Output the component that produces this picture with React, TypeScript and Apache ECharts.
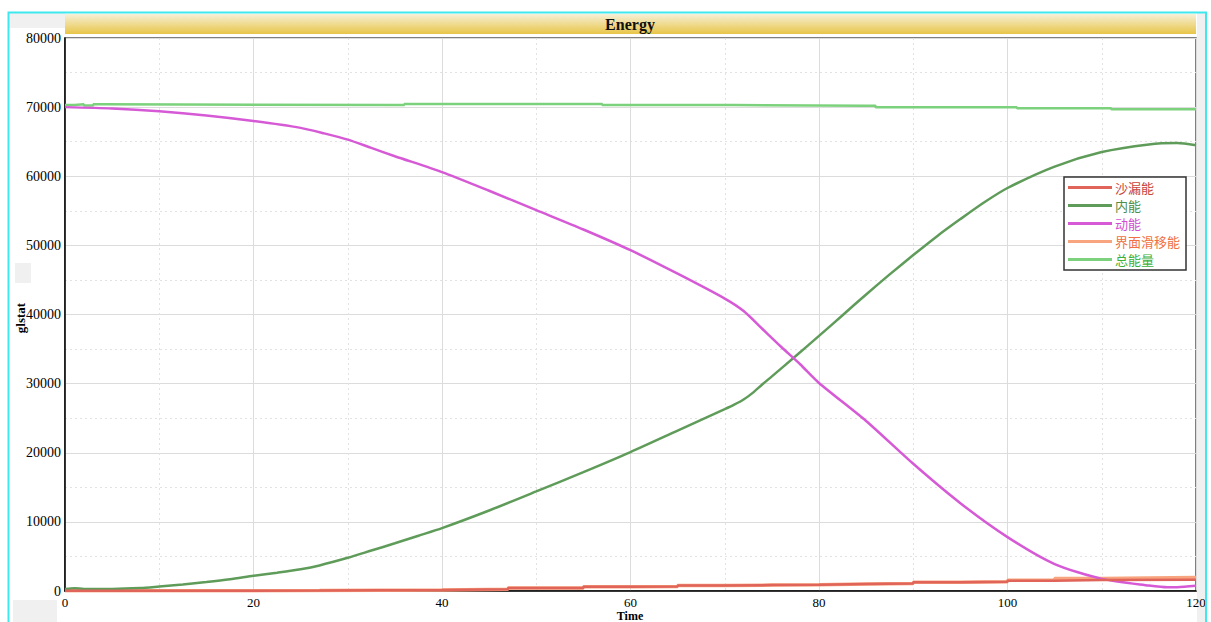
import React, { useEffect, useRef } from "react";
import * as echarts from "echarts";

const seriesNames = ["沙漏能", "内能", "动能", "界面滑移能", "总能量"];
const xAxisName = "Time";
const yAxisName = "glstat";
const chartTitle = "Energy";

// [time, value]
const hourglassData: [number, number][] = [
  [0, 30], [10, 40], [20, 60], [27, 150], [40, 250], [47, 450], [55, 600], [60, 650],
  [65, 780], [70, 850], [75, 900], [80, 1000], [85, 1100], [90, 1250], [95, 1350],
  [100, 1500], [105, 1580], [110, 1620], [120, 1600],
];
const internalData: [number, number][] = [
  [0, 300], [1, 400], [2, 300], [5, 300], [8, 420], [10, 650], [12.5, 950], [15, 1300],
  [17.5, 1700], [20, 2200], [22.5, 2650], [25, 3150], [27, 3700], [30, 4800], [32.5, 5850],
  [35, 6900], [37.5, 8000], [40, 9100], [45, 11650], [50, 14400],
  [55, 17200], [60, 20100], [65, 23200], [70, 26300], [71, 26950], [72, 27700], [73, 28700],
  [74, 29900], [75, 31050], [77.5, 33950], [80, 36900], [82.5, 39900], [85, 42900],
  [87.5, 45800], [90, 48600], [92.5, 51300], [95, 53800], [97.5, 56200], [100, 58300],
  [105, 61400], [110, 63500], [115, 64600], [118, 64800], [120, 64500],
];
const kineticData: [number, number][] = [
  [0, 70000], [5, 69800], [10, 69400], [15, 68800], [20, 68000], [25, 67000], [27.5, 66200],
  [30, 65300], [32.5, 64100], [35, 62900], [40, 60600], [45, 57900], [50, 55100], [55, 52300],
  [60, 49300], [65, 45900], [70, 42300], [72, 40500], [74, 37900], [76, 35300], [78, 32800],
  [80, 30100], [85, 24600], [90, 18400], [95, 12700], [100, 7800], [105, 3900], [110, 1750],
  [115, 800], [117, 550], [118, 550], [120, 750],
];
const slidingData: [number, number][] = [
  [0, 30], [10, 40], [20, 60], [27, 150], [40, 250], [47, 450], [55, 600], [60, 650],
  [65, 780], [70, 850], [75, 900], [80, 1000], [85, 1100], [90, 1250], [95, 1350],
  [100, 1550], [105, 1800], [110, 1880], [115, 1950], [120, 1950],
];
const totalData: [number, number][] = [
  [0, 70300], [1, 70400], [2, 70250], [3, 70400], [4, 70300], [35, 70300], [36, 70450],
  [56, 70450], [57, 70300], [70, 70300], [71, 70200], [85, 70200], [86, 70000],
  [100, 70000], [101, 69850], [110, 69850], [111, 69700], [120, 69700],
];

const xTicks = { min: 0, max: 120, interval: 20 };
const yTicks = { min: 0, max: 80000, interval: 10000 };

const lineColors = ["#e0645a", "#5f9c5a", "#d65ad6", "#f8a47e", "#7cd27c"];
const textColors = ["#c8443c", "#4e8e48", "#d050d0", "#f07044", "#3cb03c"];

const serif = "'Liberation Serif', 'Times New Roman', serif";

export default function App() {
  const ref = useRef<HTMLDivElement>(null);
  useEffect(() => {
    if (!ref.current) return;
    const chart = echarts.init(ref.current, undefined, { renderer: "svg" });
    const datas = [hourglassData, internalData, kineticData, slidingData, totalData];
    const steps: (false | "end")[] = ["end", false, false, "end", "end"];
    const zs = [6, 4, 5, 3, 2];
    chart.setOption({
      animation: false,
      backgroundColor: "#ffffff",
      graphic: [
        { type: "rect", z: -10, shape: { x: 9, y: 13, width: 56, height: 15 }, style: { fill: "#f0f0f0" } },
        { type: "rect", z: -10, shape: { x: 15, y: 263, width: 16, height: 20 }, style: { fill: "#f0f0f0" } },
        { type: "rect", z: -10, shape: { x: 13, y: 600, width: 44, height: 22 }, style: { fill: "#f0f0f0" } },
        { type: "rect", z: -10, shape: { x: 1197, y: 13, width: 9, height: 609 }, style: { fill: "#f0f0f0" } },
        {
          type: "rect",
          z: 10,
          shape: { x: 8.5, y: 12.5, width: 1197.5, height: 620 },
          style: { fill: "none", stroke: "#3ee8ee", lineWidth: 2 },
        },
        {
          type: "rect",
          z: 5,
          shape: { x: 65, y: 14, width: 1131, height: 20 },
          style: {
            fill: new echarts.graphic.LinearGradient(0, 0, 0, 1, [
              { offset: 0, color: "#f6f0d8" },
              { offset: 1, color: "#e8c548" },
            ]),
          },
        },
        {
          type: "text",
          z: 6,
          x: 630,
          y: 24,
          style: {
            text: chartTitle,
            font: `bold 16px ${serif}`,
            fill: "#111",
            align: "center",
            verticalAlign: "middle",
          },
        },
        {
          type: "text",
          z: 6,
          x: 630,
          y: 616,
          style: {
            text: xAxisName,
            font: `bold 12px ${serif}`,
            fill: "#000",
            align: "center",
            verticalAlign: "middle",
          },
        },
        {
          type: "text",
          z: 6,
          x: 20,
          y: 318,
          rotation: Math.PI / 2,
          style: {
            text: yAxisName,
            font: `bold 13px ${serif}`,
            fill: "#000",
            align: "center",
            verticalAlign: "middle",
          },
        },
      ],
      grid: {
        left: 65,
        right: 15,
        top: 38,
        bottom: 31,
        show: true,
        borderColor: "#555",
        borderWidth: 1.5,
        backgroundColor: "#fff",
        containLabel: false,
        outerBoundsMode: "none",
      },
      legend: {
        orient: "vertical",
        left: 1064,
        top: 177,
        itemWidth: 44,
        itemHeight: 3,
        itemGap: 3,
        icon: "rect",
        padding: [3, 6, 3, 4],
        backgroundColor: "#fff",
        borderColor: "#333",
        borderWidth: 1.5,
        textStyle: { fontFamily: "'Noto Sans CJK SC', sans-serif", fontSize: 13, lineHeight: 15, padding: [0, 0, 0, -2] },
        data: seriesNames.map((n, i) => ({ name: n, itemStyle: { color: lineColors[i] }, textStyle: { color: textColors[i] } })),
      },
      xAxis: {
        type: "value",
        ...xTicks,
        axisLine: { show: true, lineStyle: { color: "#000", width: 1.5 } },
        axisTick: { show: false },
        axisLabel: { fontFamily: serif, fontSize: 13, color: "#000", margin: 5, formatter: (v: number) => String(v) },
        splitLine: { show: true, lineStyle: { color: "#dcdcdc", width: 1 } },
        minorTick: { show: false, splitNumber: 2 },
        minorSplitLine: { show: true, lineStyle: { color: "#e2e2e2", width: 1, type: [2, 3] } },
      },
      yAxis: {
        type: "value",
        ...yTicks,
        axisLine: { show: true, lineStyle: { color: "#000", width: 1.5 } },
        axisTick: { show: false },
        axisLabel: { fontFamily: serif, fontSize: 14, color: "#000", margin: 4, formatter: (v: number) => String(v) },
        splitLine: { show: true, lineStyle: { color: "#dcdcdc", width: 1 } },
        minorTick: { show: false, splitNumber: 2 },
        minorSplitLine: { show: true, lineStyle: { color: "#e2e2e2", width: 1, type: [2, 3] } },
      },
      series: seriesNames.map((n, i) => ({
        name: n,
        type: "line",
        data: datas[i],
        showSymbol: false,
        symbol: "none",
        step: steps[i],
        smooth: steps[i] ? false : 0.25,
        z: zs[i],
        color: lineColors[i],
        lineStyle: { color: lineColors[i], width: i === 3 ? 3.5 : 2.5 },
      })),
    });
    return () => chart.dispose();
  }, []);
  return <div ref={ref} style={{ position: "fixed", left: 0, top: 0, width: 1211, height: 622 }} />;
}
